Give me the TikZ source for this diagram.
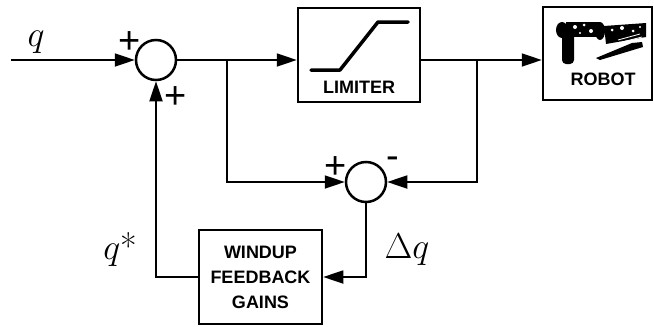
\RequirePackage{fix-cm}
\documentclass[tikz,border=0pt]{standalone}
\usepackage{fontspec}
\setsansfont{Liberation Sans}
\usetikzlibrary{arrows.meta,calc}
\begin{document}
\begin{tikzpicture}[x=1pt,y=-1pt,
  conn/.style={line width=1.8pt},
  arr/.style={conn,-{Triangle[length=20pt,width=13pt]}},
  sumnode/.style={circle,draw,line width=2.5pt,minimum size=40pt,inner sep=0pt},
  blockbox/.style={draw,line width=2.5pt,inner sep=0pt},
  boxtext/.style={font=\sffamily\bfseries\fontsize{18}{25}\selectfont,align=center,inner sep=0pt},
  sign/.style={font=\sffamily\fontsize{38}{40}\selectfont,inner sep=0pt},
  varlabel/.style={font=\fontsize{36}{40}\selectfont,inner sep=0pt}]
\useasboundingbox (0,0) rectangle (654,327);
% summing junctions
\node[sumnode] (s1) at (156,60) {};
\node[sumnode] (s2) at (366,182) {};
% limiter
\node[blockbox,minimum width=122pt,minimum height=94pt] (lim) at (359,55) {};
\node[boxtext] (limt) at (359,87) {LIMITER};
\draw[line width=3.5pt,line cap=round,line join=round] (311,70) -- (340,70) -- (378,22) -- (408,22);
% robot
\node[blockbox,minimum width=109pt,minimum height=93pt] (rob) at (597.5,53.5) {};
\node[boxtext] (robt) at (603,79) {ROBOT};
\fill[rounded corners=4pt] (562,28) rectangle (574,64);
\fill (562,30) ellipse [x radius=6pt, y radius=8pt];
\fill (566,22) rectangle (600,37);
\fill[white] (575,27) circle (2pt);
\fill[white] (584,25) circle (1.5pt);
\fill[white] (591,31) circle (2pt);
\fill[white] (580,33) circle (1.2pt);
\fill (600,31) ellipse [x radius=5pt, y radius=9pt];
\fill (604,26) -- (646,23) -- (646,37) -- (606,44) -- cycle;
\fill[white] (612,30) circle (1.5pt);
\fill[white] (622,28) circle (2pt);
\fill[white] (633,31) circle (1.5pt);
\fill[white] (640,27) circle (1.2pt);
\draw[white,line width=0.8pt] (618,40) -- (640,34);
\draw[white,line width=0.8pt] (622,42) -- (642,37);
\fill (596,58) -- (632,43) -- (642,42) -- (643,47) -- (600,60) -- cycle;
% gains
\node[blockbox,boxtext,minimum width=123pt,minimum height=94pt] (gain) at (260.5,277) {WINDUP\\FEEDBACK\\GAINS};
% connectors
\coordinate (qin) at (11,60);
\coordinate (b1) at (227,60);
\coordinate (b2) at (477,60);
\draw[arr] (qin) -- (s1.west);
\draw[conn] (s1.east) -- (b1);
\draw[arr] (b1) -- (lim.west |- b1);
\draw[arr] (b1) |- (s2.west);
\draw[conn] (lim.east |- b2) -- (b2);
\draw[arr] (b2) -- (rob.west |- b2);
\draw[arr] (b2) |- (s2.east);
\draw[arr] (s2.south) |- (gain.east);
\draw[arr] (gain.west) -| (s1.south);
% labels
\node[varlabel] (ql) at (36,42) {$q$};
\node[varlabel] (qs) at (120,250) {$q$*};
\node[varlabel] (dq) at (407,250) {$\Delta q$};
\node[sign] (p1) at (130,43) {+};
\node[sign] (p2) at (176,98) {+};
\node[sign] (p3) at (336,168) {+};
\node[sign] (m1) at (393,163) {-};
\end{tikzpicture}
\end{document}
